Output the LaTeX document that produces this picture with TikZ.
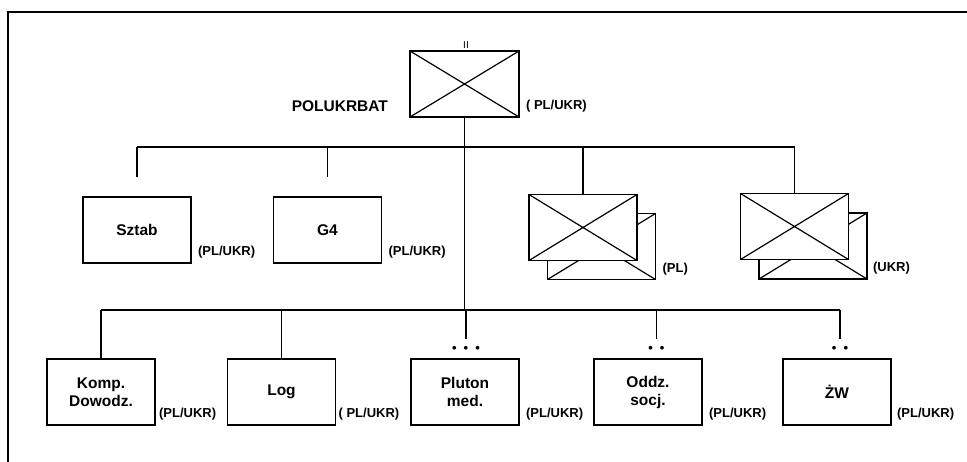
\documentclass[tikz,border=0pt]{standalone}
\usepackage{fontspec}
\setmainfont{Liberation Sans}
\usetikzlibrary{positioning,calc}

\begin{document}
\begin{tikzpicture}[x=1pt,y=-1pt,line width=1.1pt,
  unit/.style={draw,fill=white,minimum width=108pt,minimum height=66pt,inner sep=0pt,align=center,font=\fontsize{15.5}{18}\selectfont\bfseries},
  xunit/.style={unit,path picture={\draw[line width=1.2pt](path picture bounding box.north west)--(path picture bounding box.south east)(path picture bounding box.north east)--(path picture bounding box.south west);}},
  tag/.style={inner sep=0pt,anchor=west,font=\fontsize{13}{13}\selectfont\bfseries},
  rank/.style={inner sep=0pt,font=\fontsize{13}{13}\selectfont\bfseries}]
\useasboundingbox(0,0)rectangle(967,461);
\draw(8,470)|-(967,12);
% battalion
\node[xunit,minimum width=109pt](bat)at(464.5,84){};
\node[rank,anchor=base,font=\fontsize{10}{10}\selectfont](batrank)at(466,48){II};
\node[tag,anchor=east,font=\fontsize{15.5}{18}\selectfont\bfseries](batname)at([xshift=-21pt,yshift=-22pt]bat.west){POLUKRBAT};
\node[tag](battag)at([xshift=6pt,yshift=-22pt]bat.east){( PL/UKR)};
% upper row
\node[unit](sztab)at(137,230){Sztab};
\node[unit](g4)at(327.5,230){G4};
\node[xunit](plback)at(601.5,246.5){};
\node[xunit](pl)at(583,227.5){};
\node[xunit](ukrback)at(813,246){};
\node[xunit](ukr)at(794.5,226.5){};
\node[tag](sztabtag)at([xshift=6pt,yshift=-22pt]sztab.east){(PL/UKR)};
\node[tag](g4tag)at([xshift=6pt,yshift=-22pt]g4.east){(PL/UKR)};
\node[tag](pltag)at([xshift=6pt,yshift=-23pt]plback.east){(PL)};
\node[tag](ukrtag)at([xshift=5pt,yshift=-22pt]ukrback.east){(UKR)};
% lower row
\node[unit](komp)at(101,392){Komp.\\Dowodz.};
\node[unit](log)at(281.5,392){Log};
\node[unit](pluton)at(465,392){Pluton\\med.};
\node[unit](oddz)at(648,392){Oddz.\\socj.};
\node[unit](zw)at(837,392){ŻW};
\node[rank](plutonrank)at(466,349){•\hspace{7pt}•\hspace{7pt}•};
\node[rank](oddzrank)at(656.5,349){•\hspace{7pt}•};
\node[rank](zwrank)at(840,349){•\hspace{7pt}•};
\node[tag](komptag)at([xshift=3pt,yshift=-22pt]komp.east){(PL/UKR)};
\node[tag](logtag)at([xshift=2pt,yshift=-22pt]log.east){( PL/UKR)};
\node[tag](plutontag)at([xshift=6pt,yshift=-22pt]pluton.east){(PL/UKR)};
\node[tag](oddztag)at([xshift=6pt,yshift=-22pt]oddz.east){(PL/UKR)};
\node[tag](zwtag)at([xshift=5pt,yshift=-22pt]zw.east){(PL/UKR)};
% connectors
\coordinate(upbus)at(bat.south|-0,147);
\coordinate(lowbus)at(bat.south|-0,310);
\draw(bat.south)--(lowbus);
\draw(sztab.north|-upbus)--(ukr.north|-upbus);
\foreach \n in {sztab,g4}\draw[shorten >=19pt](\n.north|-upbus)--(\n.north);
\foreach \n in {pl,ukr}\draw(\n.north|-upbus)--(\n.north);
\draw(komp.north|-lowbus)--(zwrank.north|-lowbus);
\foreach \n in {komp,log}\draw(\n.north|-lowbus)--(\n.north);
\foreach \n in {plutonrank,oddzrank,zwrank}\draw[shorten >=6pt](\n.north|-lowbus)--(\n.north);
\end{tikzpicture}
\end{document}
